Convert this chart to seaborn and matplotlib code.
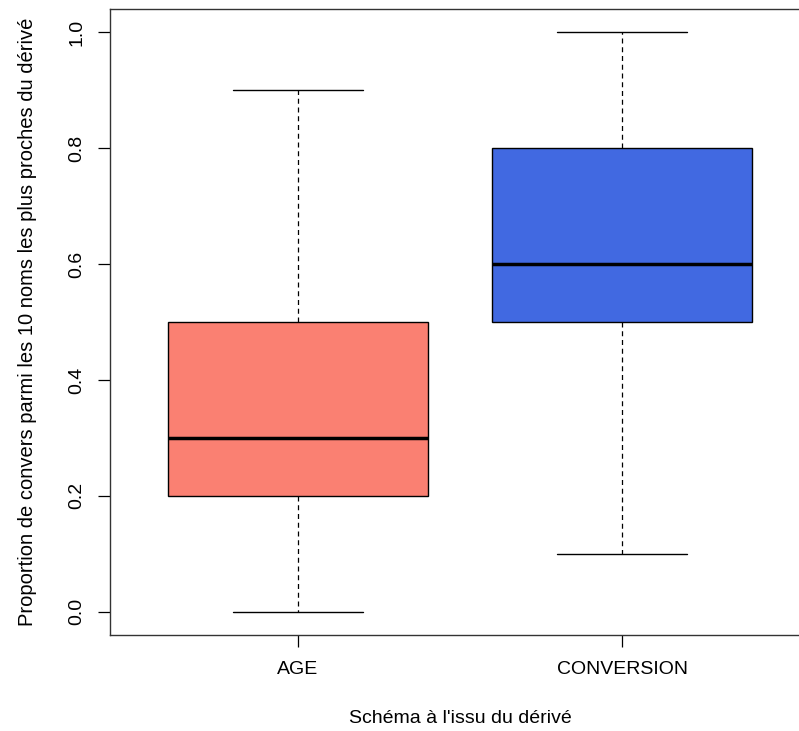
import matplotlib
matplotlib.use("Agg")
import matplotlib.pyplot as plt
import seaborn as sns
import pandas as pd

# Five-number summaries (min, Q1, median, Q3, max)
age_values = [0.0, 0.2, 0.3, 0.5, 0.9]
conversion_values = [0.1, 0.5, 0.6, 0.8, 1.0]
categories = ["AGE", "CONVERSION"]
colors = ["#FA8072", "#4169E1"]
y_ticks = [0.0, 0.2, 0.4, 0.6, 0.8, 1.0]

df = pd.DataFrame({
    "schema": [categories[0]] * len(age_values) + [categories[1]] * len(conversion_values),
    "value": age_values + conversion_values,
})

sns.set_theme(style="white")
plt.rcParams["font.family"] = ["Liberation Sans", "DejaVu Sans"]

fig = plt.figure(figsize=(7.99, 7.31), dpi=100)
ax = fig.add_axes([110 / 799, (731 - 635) / 731, 700 / 799, 626 / 731])

sns.boxplot(
    data=df, x="schema", y="value", hue="schema", palette=colors,
    order=categories, hue_order=categories, legend=False,
    width=0.8, whis=1.5, linecolor="black", linewidth=1.0,
    medianprops=dict(color="black", linewidth=2.5),
    whiskerprops=dict(linestyle=(0, (4, 3)), color="black", linewidth=0.9),
    capprops=dict(color="black", linewidth=1.0),
    saturation=1, ax=ax,
)

ax.set_xlim(-0.58, 1.58)
ax.set_ylim(-0.04, 1.04)
ax.set_yticks(y_ticks)
ax.set_yticklabels([f"{v:.1f}" for v in y_ticks], rotation=90, va="center")
ax.tick_params(axis="both", direction="out", length=8.6, width=0.9, color="black",
               labelsize=14, labelcolor="black", left=True, bottom=True)
ax.tick_params(axis="y", pad=9)
ax.tick_params(axis="x", pad=10)
for s in ax.spines.values():
    s.set_color("#333333")
    s.set_linewidth(1.0)

ax.set_xlabel("Schéma à l'issu du dérivé", fontsize=14, color="black", labelpad=23)
ax.set_ylabel("Proportion de convers parmi les 10 noms les plus proches du dérivé",
              fontsize=14.5, color="black", labelpad=23)

fig.savefig("out.png", dpi=100)
